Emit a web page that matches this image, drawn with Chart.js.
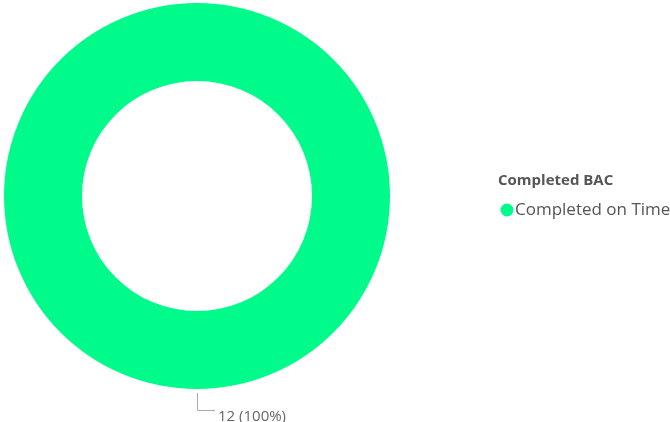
<!DOCTYPE html>
<html>
<head>
<meta charset="utf-8">
<script src="https://cdn.jsdelivr.net/npm/chart.js@4"></script>
<style>
  html, body { margin: 0; padding: 0; background: #fff; }
  #wrap { width: 670px; height: 422px; }
</style>
</head>
<body>
<div id="wrap"><canvas id="donut" width="670" height="422"></canvas></div>
<script>
// 數據
const legendTitle = 'Completed BAC';
const categories = ['Completed on Time'];
const values = [12];
const colors = ['#01FB8B'];

// 圖例（自繪）
const sideLegend = {
    id: 'sideLegend',
    afterDraw(chart) {
        const ctx = chart.ctx;
        ctx.save();
        ctx.textBaseline = 'middle';
        ctx.fillStyle = '#555555';
        ctx.font = 'bold 15px "Open Sans", sans-serif';
        ctx.fillText(legendTitle, 498, 181);
        categories.forEach((c, i) => {
            const y = 210 + i * 24;
            ctx.fillStyle = colors[i];
            ctx.beginPath();
            ctx.arc(507, y, 6.5, 0, Math.PI * 2);
            ctx.fill();
            ctx.fillStyle = '#555555';
            ctx.font = '17px "Open Sans", sans-serif';
            ctx.fillText(c, 515, y);
        });
        ctx.restore();
    }
};

// 數據標籤 + 引線
const sliceLabels = {
    id: 'sliceLabels',
    afterDraw(chart) {
        const ctx = chart.ctx;
        const meta = chart.getDatasetMeta(0);
        const total = values.reduce((a, b) => a + b, 0);
        ctx.save();
        meta.data.forEach((arc, i) => {
            const p = arc.getProps(['x', 'y', 'startAngle', 'endAngle', 'outerRadius'], true);
            const mid = (p.startAngle + p.endAngle) / 2;
            const x0 = p.x + Math.cos(mid) * (p.outerRadius + 4);
            const y0 = p.y + Math.sin(mid) * (p.outerRadius + 4);
            const y1 = y0 + 17;
            ctx.strokeStyle = '#aaaaaa';
            ctx.lineWidth = 1;
            ctx.beginPath();
            ctx.moveTo(x0 + 0.5, y0);
            ctx.lineTo(x0 + 0.5, y1 + 0.5);
            ctx.lineTo(x0 + 18, y1 + 0.5);
            ctx.stroke();
            const pct = Math.round(values[i] / total * 100);
            ctx.fillStyle = '#666666';
            ctx.font = '15px "Open Sans", sans-serif';
            ctx.textBaseline = 'alphabetic';
            ctx.fillText(values[i] + ' (' + pct + '%)', x0 + 21, y1 + 11);
        });
        ctx.restore();
    }
};

new Chart(document.getElementById('donut'), {
    type: 'doughnut',
    data: {
        labels: categories,
        datasets: [{
            data: values,
            backgroundColor: colors,
            borderWidth: 0
        }]
    },
    options: {
        responsive: false,
        animation: false,
        cutout: '59.6%',
        layout: { padding: { left: 0, right: 276, top: 3, bottom: 33 } },
        plugins: {
            legend: { display: false },
            tooltip: { enabled: false }
        }
    },
    plugins: [sideLegend, sliceLabels]
});
</script>
</body>
</html>
